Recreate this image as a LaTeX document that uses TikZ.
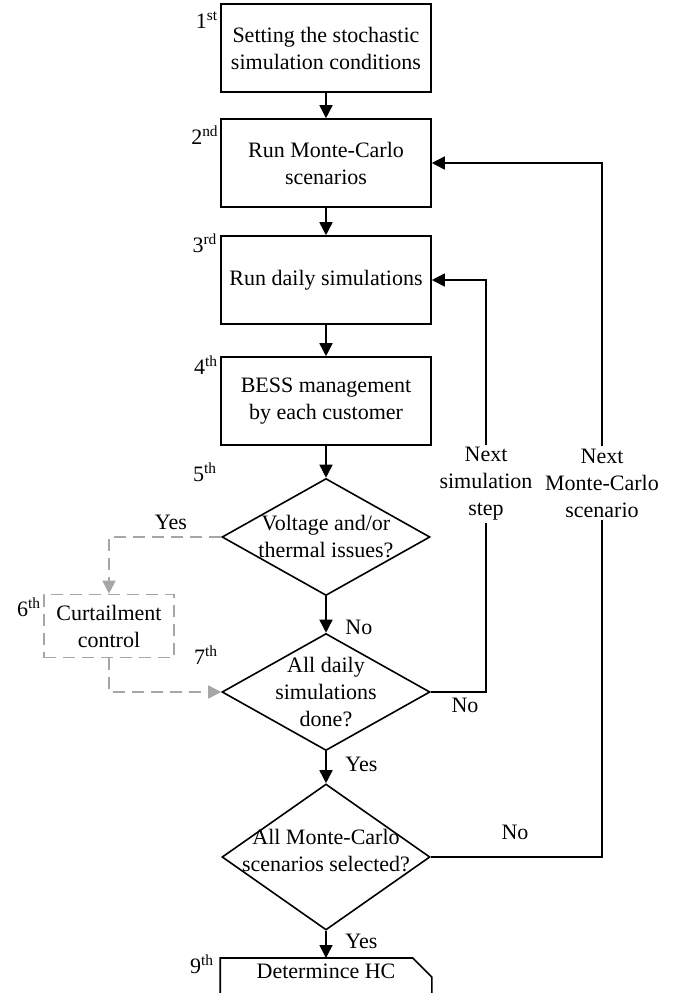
\documentclass[tikz,border=0pt]{standalone}
\usepackage{fontspec}
\setmainfont{Liberation Serif}
\usetikzlibrary{shapes.geometric, arrows.meta}

\tikzset{
    stepbox/.style={draw, line width=0.8pt, minimum width=105pt, minimum height=44pt, align=center, inner sep=0pt},
    decision/.style={diamond, draw, line width=0.8pt, inner sep=0pt, minimum width=104pt},
    flow/.style={line width=0.8pt, -{Triangle[length=6.5pt, width=6.5pt]}},
    optflow/.style={draw=black!35, line width=0.8pt, dash pattern=on 6pt off 3.5pt, -{Triangle[length=6.5pt, width=6.5pt]}},
    loopline/.style={line width=0.8pt},
    steplbl/.style={inner sep=0pt},
    txt/.style={inner sep=1pt, align=center}
}

\begin{document}
\begin{tikzpicture}[x=0.5pt, y=-0.5pt, font=\fontsize{11}{13.5}\selectfont]
    \useasboundingbox (0,0) rectangle (686,993);

    % Cajas
    \node[stepbox] (setup) at (326,48) {Setting the stochastic\\simulation conditions};
    \node[stepbox] (mc) at (326,163) {Run Monte-Carlo\\scenarios};
    \node[stepbox] (daily) at (326,280) {Run daily simulations};
    \node[stepbox] (bess) at (326,401) {BESS management\\by each customer};
    \node[stepbox, draw=black!35, line width=0.8pt, dash pattern=on 6pt off 3.5pt, minimum width=65pt, minimum height=31.5pt] (curt) at (109,626) {Curtailment\\control};
    % Caja final (esquina cortada)
    \node[stepbox, draw=none, anchor=north,
          label={[anchor=north, inner sep=3pt]north:Determince HC}] (hc) at (326,958) {};
    \draw[line width=0.8pt] (hc.south west) |- ([xshift=-9.5pt]hc.north east)
        -- ([yshift=-9.5pt]hc.north east) -- (hc.south east);

    % Rombos
    \node[decision, minimum height=58.5pt, label={[align=center]center:Voltage and/or\\thermal issues?}] (volt) at (326,537) {};
    \node[decision, minimum height=58.5pt, label={[align=center]center:All daily\\simulations\\done?}] (done) at (326,692) {};
    \node[decision, minimum height=73pt, label={[align=center, yshift=3pt]center:All Monte-Carlo\\scenarios selected?}] (allmc) at (326,857) {};

    % Numeros de paso
    \node[steplbl] (n1) at (207,20) {1\textsuperscript{st}};
    \node[steplbl] (n2) at (205,135) {2\textsuperscript{nd}};
    \node[steplbl] (n3) at (205,243) {3\textsuperscript{rd}};
    \node[steplbl] (n4) at (206,365) {4\textsuperscript{th}};
    \node[steplbl] (n5) at (205,472) {5\textsuperscript{th}};
    \node[steplbl] (n6) at (29,607) {6\textsuperscript{th}};
    \node[steplbl] (n7) at (206,655) {7\textsuperscript{th}};
    \node[steplbl] (n9) at (202,964) {9\textsuperscript{th}};

    % Textos de lazos
    \node[txt] (nextsim) at (486,484) {Next\\simulation\\step};
    \node[txt] (nextmc) at (602,483) {Next\\Monte-Carlo\\scenario};

    % Flechas principales
    \draw[flow] (setup) -- (mc);
    \draw[flow] (mc) -- (daily);
    \draw[flow] (daily) -- (bess);
    \draw[flow] (bess) -- (volt.north);
    \draw[flow] (volt.south) -- (done.north) node[pos=0.85, right=6pt] (no1) {No};
    \draw[flow] (done.south) -- (allmc.north) node[pos=0.4, right=6pt] (yes2) {Yes};
    \draw[flow] (allmc.south) -- (hc.north) node[pos=0.4, right=6pt] (yes3) {Yes};

    % Rama de recorte (gris)
    \draw[optflow] (volt.west) -| (curt.north);
    \node (yes1) at (171,522) {Yes};
    \draw[optflow] (curt.south) |- (done.west);

    % Lazo de simulaciones
    \draw[loopline] (done.east) -| (nextsim.south);
    \draw[flow] (nextsim.north) |- (daily.east);
    \node (no2) at (465,705) {No};

    % Lazo de Monte-Carlo
    \draw[loopline] (allmc.east) -| (nextmc.south);
    \draw[flow] (nextmc.north) |- (mc.east);
    \node (no3) at (515,832) {No};
\end{tikzpicture}
\end{document}
